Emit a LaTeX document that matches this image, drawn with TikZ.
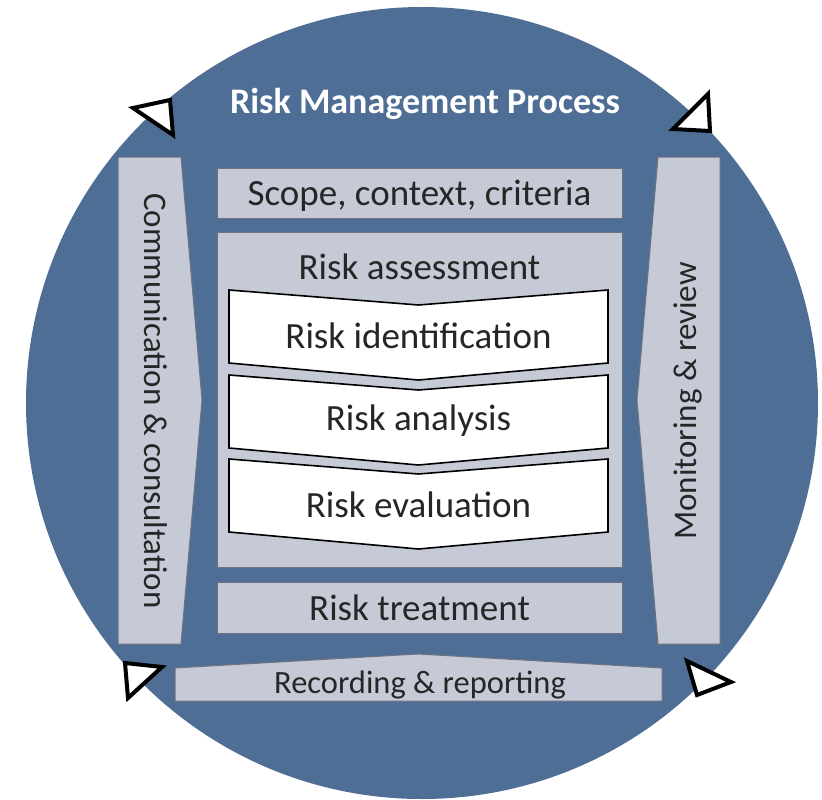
\documentclass[tikz,border=0pt]{standalone}
\usepackage{fontspec}
\setmainfont{Carlito}
\usetikzlibrary{positioning,calc}
\definecolor{circblue}{RGB}{79,110,150}
\definecolor{boxgray}{RGB}{197,202,214}
\definecolor{edgegray}{RGB}{110,115,125}

\begin{document}
\begin{tikzpicture}[x=1pt, y=-1pt]
    \tikzstyle{graybox} = [rectangle, fill=boxgray, draw=edgegray, line width=1pt, minimum width=405, inner sep=0pt]
    \tikzstyle{grayshape} = [fill=boxgray, draw=edgegray, line width=1pt]
    \tikzstyle{chevron} = [fill=white, draw=black, line width=1.6pt, line join=miter]
    \tikzstyle{label} = [font=\fontsize{37}{40}\selectfont, text=black!85]
    \tikzstyle{sidelabel} = [font=\fontsize{33}{36}\selectfont, text=black!85]
    \tikzstyle{cycletip} = [fill=white, draw=black, line width=4pt, line join=miter]

    \useasboundingbox (0,0) rectangle (822,800);

    % Circle
    \fill[circblue] (422,403) circle (396pt);
    \node[font=\bfseries\fontsize{36}{40}\selectfont, text=white] (title) at (425,104) {Risk Management Process};

    % Side arrows
    \draw[grayshape] (118,157) -- (181,157) -- (202,400) -- (181,644) -- (118,644) -- cycle;
    \node[sidelabel, rotate=-90] (comm) at (156,401) {Communication \& consultation};
    \draw[grayshape] (658,157) -- (720,157) -- (720,644) -- (658,644) -- (637,400) -- cycle;
    \node[sidelabel, rotate=90] (monitor) at (688,401) {Monitoring \& review};

    % Boxes
    \node[graybox, minimum height=50] (scope) at (419.5,193) {};
    \node[label] at ([yshift=-3pt]scope.center) {Scope, context, criteria};
    \node[graybox, minimum height=335] (assess) at (419.5,399.5) {};
    \node[label, below=22pt of assess.north, inner sep=0pt] (assesstitle) {Risk assessment};
    \foreach \top/\name/\txt in {290/ident/Risk identification, 375/analysis/Risk analysis, 459/evaluation/Risk evaluation} {
        \draw[chevron] (229,\top) -- (418.5,\top+15) -- (608,\top) -- (608,\top+73) -- (418.5,\top+90) -- (229,\top+73) -- cycle;
        \node[label] (\name) at (418.5,\top+46) {\txt};
    }
    \node[graybox, minimum height=51] (treat) at (419.5,607.5) {};
    \node[label] at (treat) {Risk treatment};

    % Recording & reporting
    \draw[grayshape] (175,668) -- (418,654) -- (662,668) -- (662,701) -- (175,701) -- cycle;
    \node[sidelabel, font=\fontsize{32.5}{35}\selectfont] (record) at (420,685) {Recording \& reporting};

    % Cycle tips
    \draw[cycletip] (133,108) -- (170,100) -- (173,135) -- cycle;
    \draw[cycletip] (673,129) -- (708,94) -- (710,131) -- cycle;
    \draw[cycletip] (687,661) -- (731,682) -- (697,695) -- cycle;
    \draw[cycletip] (125,663) -- (162,667) -- (128,698) -- cycle;
\end{tikzpicture}
\end{document}
